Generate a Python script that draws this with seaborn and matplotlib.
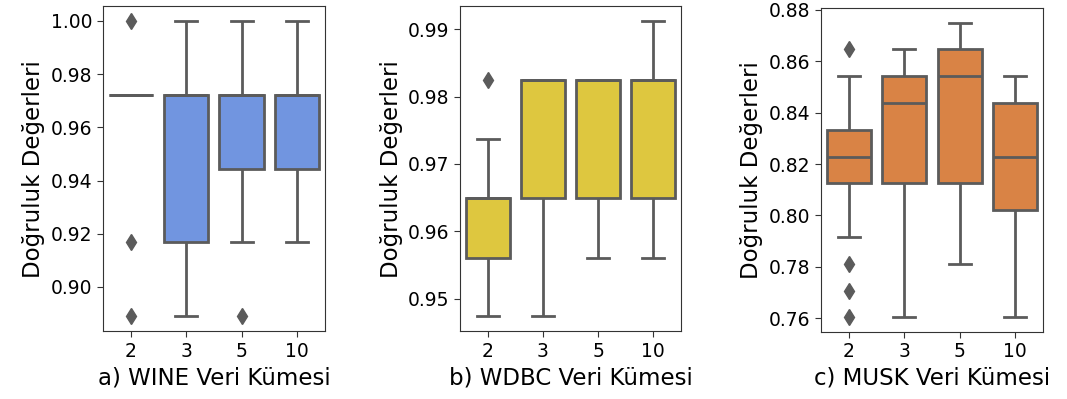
import pandas as pd
import matplotlib
matplotlib.use("Agg")
import matplotlib.pyplot as plt
import seaborn as sns

# fold counts on the x axis
k_values = ["2", "3", "5", "10"]

wine_acc = {
    "2": [0.8889, 0.9167, 0.9722, 0.9722, 0.9722, 0.9722, 0.9722, 0.9722, 0.9722, 1.0],
    "3": [0.8889, 0.9167, 0.9167, 0.9167, 0.9722, 0.9722, 0.9722, 0.9722, 0.9722, 1.0],
    "5": [0.8889, 0.9167, 0.9444, 0.9444, 0.9722, 0.9722, 0.9722, 0.9722, 0.9722, 1.0],
    "10": [0.9167, 0.9444, 0.9444, 0.9444, 0.9722, 0.9722, 0.9722, 0.9722, 0.9722, 1.0],
}
wdbc_acc = {
    "2": [0.9474, 0.9561, 0.9561, 0.9561, 0.9649, 0.9649, 0.9649, 0.9649, 0.9737, 0.9825],
    "3": [0.9474, 0.9649, 0.9649, 0.9649, 0.9825, 0.9825, 0.9825, 0.9825, 0.9825, 0.9825],
    "5": [0.9561, 0.9649, 0.9649, 0.9649, 0.9825, 0.9825, 0.9825, 0.9825, 0.9825, 0.9825],
    "10": [0.9561, 0.9649, 0.9649, 0.9649, 0.9825, 0.9825, 0.9825, 0.9825, 0.9825, 0.9912],
}
musk_acc = {
    "2": [0.7604, 0.7708, 0.7812, 0.7917, 0.8125, 0.8125, 0.8125, 0.8125,
          0.8229, 0.8229, 0.8229, 0.8229, 0.8333, 0.8333, 0.8333, 0.8333,
          0.8333, 0.8333, 0.8542, 0.8646],
    "3": [0.7604, 0.8125, 0.8125, 0.8125, 0.8438, 0.8438, 0.8542, 0.8542, 0.8542, 0.8646],
    "5": [0.7812, 0.8125, 0.8125, 0.8125, 0.8542, 0.8542, 0.8646, 0.8646, 0.8646, 0.875],
    "10": [0.7604, 0.8021, 0.8021, 0.8021, 0.8229, 0.8229, 0.8438, 0.8438, 0.8438, 0.8542],
}

wine_ticks = [0.90, 0.92, 0.94, 0.96, 0.98, 1.00]
wdbc_ticks = [0.95, 0.96, 0.97, 0.98, 0.99]
musk_ticks = [0.76, 0.78, 0.80, 0.82, 0.84, 0.86, 0.88]

titles = ["a) WINE Veri Kümesi", "b) WDBC Veri Kümesi", "c) MUSK Veri Kümesi"]
colors = ["#7195e0", "#dec73f", "#d98345"]
ylabel = "Doğruluk Değerleri"


def to_long(acc):
    rows = [(k, v) for k in k_values for v in acc[k]]
    return pd.DataFrame(rows, columns=["k", "acc"])


plt.rcParams["font.family"] = ["DejaVu Sans"]
gray = "#5b5b5b"

fig = plt.figure(figsize=(10.67, 3.99), dpi=100)
positions = [
    [0.0965, 0.170, 0.208, 0.8145],
    [0.4311, 0.170, 0.207, 0.8145],
    [0.7695, 0.168, 0.208, 0.812],
]
datasets = [wine_acc, wdbc_acc, musk_acc]
tick_sets = [wine_ticks, wdbc_ticks, musk_ticks]

for pos, acc, ticks, title, color in zip(positions, datasets, tick_sets, titles, colors):
    ax = fig.add_axes(pos)
    sns.boxplot(
        data=to_long(acc), x="k", y="acc", order=k_values, ax=ax,
        color=color, saturation=1, width=0.8, linewidth=2, linecolor=gray,
        flierprops=dict(marker="d", markerfacecolor=gray, markeredgecolor=gray,
                        markersize=8),
    )
    ax.set_yticks(ticks)
    ax.set_yticklabels([f"{t:.2f}" for t in ticks])
    ax.tick_params(labelsize=13.5, color="#333333", length=4)
    ax.set_xlabel(title, fontsize=16.5)
    ax.set_ylabel(ylabel, fontsize=16.5)
    for s in ax.spines.values():
        s.set_color("#333333")

fig.savefig("out.png", dpi=100)
